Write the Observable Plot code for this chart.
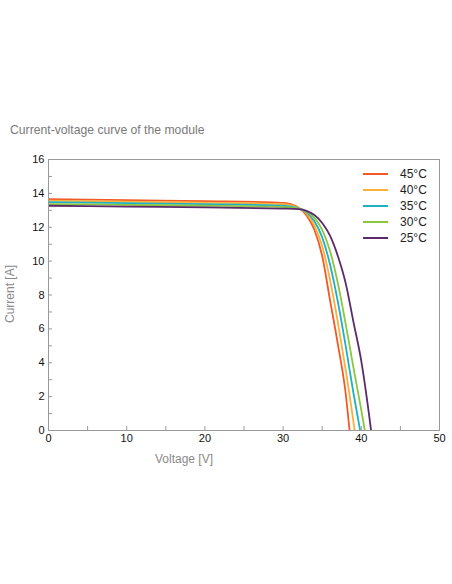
<!DOCTYPE html>
<html>
<head>
<meta charset="utf-8">
<script src="https://cdn.jsdelivr.net/npm/d3@7"></script>
<script src="https://cdn.jsdelivr.net/npm/@observablehq/plot@0.6"></script>
<style>
  html, body { margin: 0; padding: 0; background: #fff; }
  #wrap { position: relative; width: 452px; height: 584px; font-family: "Liberation Sans", Arial, sans-serif; }
  #title { position: absolute; left: 10px; top: 123px; font-size: 12.2px; color: #7a7a7a; white-space: nowrap; }
  #chart { position: absolute; left: 0; top: 149px; }
  .axt { position: absolute; font-size: 12px; color: #8a8a8a; white-space: nowrap; }
  #xlab { left: 155px; top: 452px; }
  #ylab { left: 10px; top: 294px; transform: translate(-50%, -50%) rotate(-90deg); }
  #legend { position: absolute; left: 363px; top: 166px; font-size: 12px; color: #222; }
  #legend .row { display: flex; align-items: center; height: 16px; }
  #legend .sw { width: 25px; height: 2px; margin-right: 12px; }
</style>
</head>
<body>
<div id="wrap">
  <div id="title">Current-voltage curve of the module</div>
  <div id="chart"></div>
  <div class="axt" id="xlab">Voltage [V]</div>
  <div class="axt" id="ylab">Current [A]</div>
  <div id="legend"></div>
</div>
<script>
// Module temperatures and their line colours (legend order)
const temps = ["45°C", "40°C", "35°C", "30°C", "25°C"];
const colors = ["#f15a24", "#fbb03b", "#1eb0c6", "#8cc63f", "#5c2a6b"];

// I-V points per temperature: [voltage V, current A]
const iv45 = [[0,13.66],[10,13.60],[20,13.54],[28,13.48],[30,13.44],[31,13.36],[32,13.15],[33,12.70],[34,11.85],[35,10.30],[36,7.70],[37,5.10],[38,2.20],[38.5,0]];
const iv40 = [[0,13.57],[10,13.51],[20,13.45],[28,13.39],[30,13.36],[31,13.30],[32,13.14],[33,12.80],[34,12.10],[35,10.90],[36,8.90],[37,6.40],[38,3.60],[39,0.50],[39.15,0]];
const iv35 = [[0,13.48],[10,13.42],[20,13.36],[28,13.30],[30,13.27],[32,13.12],[33,12.88],[34,12.35],[35,11.40],[36,9.80],[37,7.60],[38,5.00],[39,2.20],[39.85,0]];
const iv30 = [[0,13.37],[10,13.32],[20,13.27],[28,13.22],[30,13.19],[32,13.10],[33,12.93],[34,12.55],[35,11.85],[36,10.60],[37,8.70],[38,6.30],[39,3.70],[40,1.20],[40.45,0]];
const iv25 = [[0,13.27],[10,13.22],[20,13.17],[28,13.12],[30,13.10],[32,13.07],[33,12.97],[34,12.72],[35,12.25],[36,11.50],[37,10.30],[38,8.70],[39,6.40],[40,4.10],[41,0.90],[41.25,0]];

// Axis ticks
const xMajor = [0, 10, 20, 30, 40, 50];
const xTicks = [0, 5, 10, 15, 20, 25, 30, 35, 40, 45, 50];
const yMajor = [0, 2, 4, 6, 8, 10, 12, 14, 16];
const yTicks = d3.range(0, 17, 1);

const series = [iv45, iv40, iv35, iv30, iv25];
const rows = series.flatMap((pts, i) => pts.map(([v, a]) => ({temp: temps[i], v, a})));

const W = 452, H = 331;
const mL = 48, mR = 13, mT = 10, mB = 50;
const innerW = W - mL - mR, innerH = H - mT - mB;

const chart = Plot.plot({
  width: W, height: H,
  marginLeft: mL, marginRight: mR, marginTop: mT, marginBottom: mB,
  style: {fontFamily: "Liberation Sans, Arial, sans-serif", fontSize: "11px", color: "#111", background: "#fff"},
  x: {domain: [0, 50]},
  y: {domain: [0, 16]},
  color: {domain: temps, range: colors},
  marks: [
    Plot.line(rows, {x: "v", y: "a", z: "temp", stroke: "temp", strokeWidth: 1.8, curve: "monotone-x", clip: true}),
    Plot.tickY(yTicks, {y: d => d, stroke: "#999", insetRight: innerW - 4}),
    Plot.tickX(xTicks, {x: d => d, stroke: "#999", insetTop: innerH - 4}),
    Plot.frame({stroke: "#999"}),
    Plot.axisY(yMajor, {tickSize: 0, tickPadding: 4, label: null, fontSize: 11, fill: "#111"}),
    Plot.axisX(xMajor, {tickSize: 0, tickPadding: 4, label: null, fontSize: 11, fill: "#111"})
  ]
});
document.getElementById("chart").appendChild(chart);

// Legend
const legend = document.getElementById("legend");
temps.forEach((t, i) => {
  const row = document.createElement("div");
  row.className = "row";
  row.innerHTML = `<span class="sw" style="background:${colors[i]}"></span><span>${t}</span>`;
  legend.appendChild(row);
});
</script>
</body>
</html>
